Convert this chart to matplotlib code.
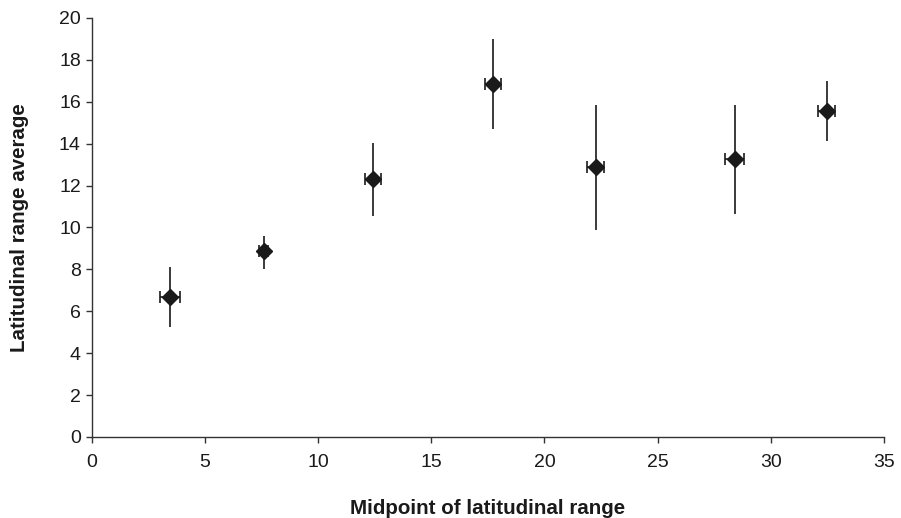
import matplotlib
matplotlib.use("Agg")
import matplotlib.pyplot as plt

# ---------------- data ----------------

midpoint = [3.45, 7.6, 12.42, 17.72, 22.26, 28.41, 32.47]
rangeAvg = [6.67, 8.88, 12.3, 16.84, 12.9, 13.27, 15.56]
yErrLow = [1.43, 0.85, 1.74, 2.15, 3.02, 2.64, 1.43]
yErrHigh = [1.46, 0.71, 1.72, 2.14, 2.95, 2.58, 1.45]
xErr = [0.44, 0.2, 0.34, 0.34, 0.36, 0.41, 0.37]

xTicks = [0, 5, 10, 15, 20, 25, 30, 35]
yTicks = [0, 2, 4, 6, 8, 10, 12, 14, 16, 18, 20]

# ---------------- plot ----------------

plt.rcParams['font.family'] = ['Liberation Sans', 'DejaVu Sans']

fig = plt.figure(figsize=(9.01, 5.18), dpi=100)
ax = fig.add_axes([0.102, 0.1564, 0.879, 0.8089])

# vertical bars, no caps
ax.errorbar(midpoint, rangeAvg, yerr=[yErrLow, yErrHigh], fmt='none',
            ecolor='#3a3a3a', elinewidth=1.4, capsize=0, zorder=2)
# horizontal bars with small caps
ax.errorbar(midpoint, rangeAvg, xerr=xErr, fmt='none',
            ecolor='#1a1a1a', elinewidth=1.2, capsize=4, capthick=1.2, zorder=3)
ax.plot(midpoint, rangeAvg, linestyle='none', marker='D', markersize=8.5,
        color='#1a1a1a', zorder=4)

ax.set_xlim(0, 35)
ax.set_ylim(0, 20)
ax.set_xticks(xTicks)
ax.set_yticks(yTicks)

for side in ['top', 'right']:
    ax.spines[side].set_visible(False)
for side in ['left', 'bottom']:
    ax.spines[side].set_color('#333333')
    ax.spines[side].set_linewidth(1.0)

ax.tick_params(direction='out', length=4, width=1.0, color='#333333',
               labelsize=14, labelcolor='#1a1a1a')
ax.tick_params(axis='x', pad=8)
ax.tick_params(axis='y', pad=4)

ax.set_xlabel('Midpoint of latitudinal range', fontsize=14.8,
              fontweight='bold', color='#1a1a1a')
ax.set_ylabel('Latitudinal range average', fontsize=14.8,
              fontweight='bold', color='#1a1a1a')
ax.xaxis.set_label_coords(0.5, -0.148)
ax.yaxis.set_label_coords(-0.08, 0.5)

fig.savefig('out.png', dpi=100)
